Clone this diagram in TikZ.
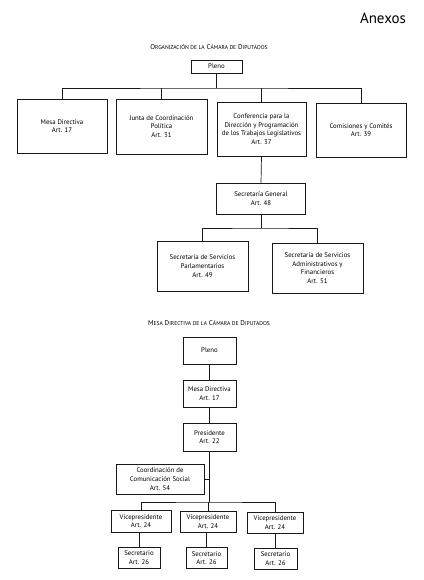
\documentclass[tikz,border=0pt]{standalone}
\usepackage{fontspec}
\setmainfont{PT Sans}
\newcommand\ssc[1]{{\fontsize{5.6}{5.6}\selectfont #1}}
\begin{document}
\begin{tikzpicture}[x=1pt,y=-1pt,
  box/.style={draw=black!90, line width=0.7pt, align=center, inner sep=1pt,
    font=\fontsize{6.8}{8.6}\selectfont, text=black},
  conn/.style={draw=black!90, line width=0.7pt},
  ttl/.style={font=\fontsize{7}{7.5}\selectfont, text=black}]
\useasboundingbox (0,0) rectangle (423,580);
\fill[white] (0,0) rectangle (423,580);
\node[font=\fontsize{15}{17}\selectfont, text=black] (anexos) at (383,18) {Anexos};
% ---- first chart
\node[ttl] (t1) at (209,47) {O\ssc{RGANIZACIÓN DE LA} C\ssc{ÁMARA DE} D\ssc{IPUTADOS}};
\node[box, minimum width=51, minimum height=13] (pleno) at (216.5,66.5) {Pleno};
\node[box, minimum width=90, minimum height=54] (mesa) at (62,126) {Mesa Directiva\\Art. 17};
\node[box, minimum width=91, minimum height=55] (junta) at (161.5,126.5) {Junta de Coordinación\\Política\\Art. 31};
\node[box, minimum width=89, minimum height=54] (conf) at (261.5,129) {Conferencia para la\\Dirección y Programación\\de los Trabajos Legislativos\\Art. 37};
\node[box, minimum width=90, minimum height=54] (comis) at (361,130) {Comisiones y Comités\\Art. 39};
\coordinate (bus1) at (216.5,88);
\draw[conn] (pleno.south) -- (bus1);
\draw[conn] (mesa.north) |- (bus1) -| (comis.north);
\draw[conn] (junta.north) -- (junta.north |- bus1);
\draw[conn] (conf.north) -- (conf.north |- bus1);
\node[box, minimum width=89, minimum height=31] (sg) at (261,198.5) {Secretaría General\\Art. 48};
\draw[conn] (conf.south) -- (sg.north);
\node[box, minimum width=91, minimum height=50] (ssp) at (202.5,266) {Secretaría de Servicios\\Parlamentarios\\Art. 49};
\node[box, minimum width=91, minimum height=50] (ssaf) at (317.5,268) {Secretaría de Servicios\\Administrativos y\\Financieros\\Art. 51};
\coordinate (bus2) at (261,228);
\draw[conn] (sg.south) -- (bus2);
\draw[conn] (ssp.north) |- (bus2) -| (ssaf.north);
% ---- second chart
\node[ttl] (t2) at (209,323) {M\ssc{ESA} D\ssc{IRECTIVA DE LA} C\ssc{ÁMARA DE} D\ssc{IPUTADOS}};
\node[box, minimum width=53, minimum height=27] (pleno2) at (209.5,350.5) {Pleno};
\node[box, minimum width=53, minimum height=27] (md2) at (209.5,393.5) {Mesa Directiva\\Art. 17};
\node[box, minimum width=53, minimum height=28] (pres) at (209.5,437) {Presidente\\Art. 22};
\draw[conn] (pleno2.south) -- (md2.north);
\draw[conn] (md2.south) -- (pres.north);
\node[box, minimum width=88, minimum height=30] (coord) at (160,479) {Coordinación de\\Comunicación Social\\Art. 54};
\coordinate (bus3) at (209.5,502);
\draw[conn] (pres.south) -- (bus3);
\draw[conn] (coord.east) -- (coord.east -| bus3);
\node[box, minimum width=60, minimum height=22] (vp1) at (141,521) {Vicepresidente\\Art. 24};
\node[box, minimum width=56, minimum height=21] (vp2) at (208,521.5) {Vicepresidente\\Art. 24};
\node[box, minimum width=56, minimum height=21] (vp3) at (275,522.5) {Vicepresidente\\Art. 24};
\draw[conn] (vp1.north) |- (bus3) -| (vp3.north);
\draw[conn] (vp2.north) -- (vp2.north |- bus3);
\node[box, minimum width=42, minimum height=21] (s1) at (139,557.5) {Secretario\\Art. 26};
\node[box, minimum width=41, minimum height=21] (s2) at (206.5,558) {Secretario\\Art. 26};
\node[box, minimum width=43, minimum height=21] (s3) at (275.5,558.5) {Secretario\\Art. 26};
\draw[conn] (s1.north) -- (s1.north |- vp1.south);
\draw[conn] (s2.north) -- (s2.north |- vp2.south);
\draw[conn] (s3.north) -- (s3.north |- vp3.south);
\end{tikzpicture}
\end{document}
